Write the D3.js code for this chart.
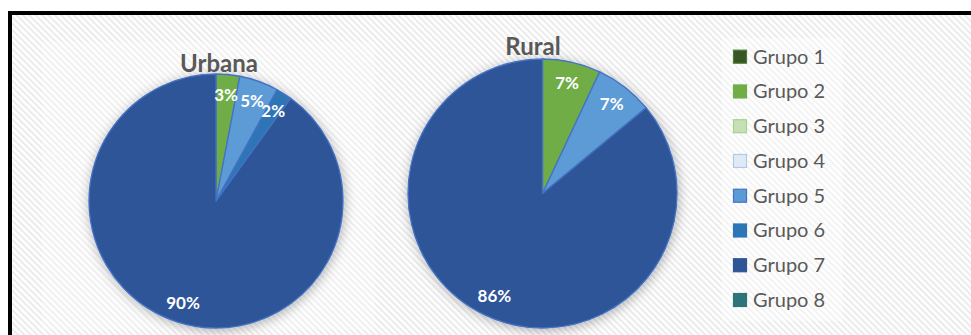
<!DOCTYPE html>
<html>
<head>
<meta charset="utf-8">
<script src="https://cdn.jsdelivr.net/npm/d3@7"></script>
<style>
  html, body { margin: 0; padding: 0; background: #fff; }
  svg { display: block; }
</style>
</head>
<body>
<svg id="chart" width="971" height="335"></svg>
<script>
// Group names and shares (%) for each zone
const groups = ["Grupo 1", "Grupo 2", "Grupo 3", "Grupo 4", "Grupo 5", "Grupo 6", "Grupo 7", "Grupo 8"];
const urbanaValues = [0, 3, 0, 0, 5, 2, 90, 0];
const ruralValues  = [0, 7, 0, 0, 7, 0, 86, 0];
const zoneTitles = ["Urbana", "Rural"];
const groupColors = ["#375623", "#70AD47", "#C5E0B4", "#DEEBF7", "#5B9BD5", "#2E75B6", "#2F5597", "#2E7579"];
const keyStrokes  = ["#4E7A36", "#70AD47", "#A9D18E", "#B4C7E7", "#4472C4", "#2E75B6", "#2F5597", "#2E7579"];

const svg = d3.select("#chart");
const defs = svg.append("defs");

// diagonal hatch background
const pat = defs.append("pattern")
  .attr("id", "hatch").attr("patternUnits", "userSpaceOnUse")
  .attr("width", 4.5).attr("height", 4.5)
  .attr("patternTransform", "rotate(-45)");
pat.append("rect").attr("width", 4.5).attr("height", 4.5).attr("fill", "#ffffff");
pat.append("rect").attr("width", 2).attr("height", 4.5).attr("fill", "#ebebeb");

// soft halo around pies
const f = defs.append("filter").attr("id", "halo")
  .attr("x", "-20%").attr("y", "-20%").attr("width", "140%").attr("height", "140%");
f.append("feDropShadow").attr("dx", 1).attr("dy", 2).attr("stdDeviation", 6)
  .attr("flood-color", "#000").attr("flood-opacity", 0.3);

// chart frame
svg.append("rect").attr("x", 10).attr("y", 13).attr("width", 1000).attr("height", 400)
  .attr("fill", "url(#hatch)").attr("stroke", "#000").attr("stroke-width", 4);

// faint chart-area panels
svg.append("rect").attr("x", 42).attr("y", 42).attr("width", 333).attr("height", 288)
  .attr("fill", "#fff").attr("opacity", 0.25);
svg.append("rect").attr("x", 722).attr("y", 38).attr("width", 121).attr("height", 283)
  .attr("fill", "#fff").attr("opacity", 0.4);

const color = d3.scaleOrdinal().domain(groups).range(groupColors);
const keyStroke = d3.scaleOrdinal().domain(groups).range(keyStrokes);

const pie = d3.pie().sort(null).value(d => d.value);

const charts = [
  { title: zoneTitles[0], values: urbanaValues, cx: 216, cy: 201, r: 127, tx: 219, ty: 72 },
  { title: zoneTitles[1], values: ruralValues,  cx: 542.5, cy: 193.5, r: 134.5, tx: 533, ty: 55 }
];

charts.forEach(c => {
  const data = groups.map((g, i) => ({ group: g, value: c.values[i] }));
  const arcs = pie(data);
  const arc = d3.arc().innerRadius(0).outerRadius(c.r);
  const labelArc = d3.arc().innerRadius(c.r * 0.84).outerRadius(c.r * 0.84);

  const g = svg.append("g").attr("transform", `translate(${c.cx},${c.cy})`);

  g.append("g").attr("filter", "url(#halo)")
    .selectAll("path")
    .data(arcs.filter(d => d.data.value > 0))
    .join("path")
    .attr("d", arc)
    .attr("fill", d => color(d.data.group))
    .attr("stroke", "#4472C4")
    .attr("stroke-width", 1.3)
    .attr("stroke-linejoin", "round");

  g.selectAll("text.lbl")
    .data(arcs.filter(d => d.data.value > 0))
    .join("text")
    .attr("class", "lbl")
    .attr("transform", d => `translate(${labelArc.centroid(d)})`)
    .attr("text-anchor", "middle")
    .attr("dy", "0.36em")
    .attr("fill", "#fff")
    .attr("font-family", "Lato, 'Open Sans', sans-serif")
    .attr("font-weight", "bold")
    .attr("font-size", 17)
    .text(d => d.data.value + "%");

  svg.append("text")
    .attr("x", c.tx).attr("y", c.ty)
    .attr("text-anchor", "middle")
    .attr("fill", "#595959")
    .attr("font-family", "Lato, 'Open Sans', sans-serif")
    .attr("font-weight", "bold")
    .attr("font-size", 24)
    .text(c.title);
});

// legend
const legendY = d3.scalePoint().domain(groups).range([56.7, 300]);
const leg = svg.append("g").selectAll("g").data(groups).join("g")
  .attr("transform", d => `translate(740,${legendY(d)})`);
leg.append("rect")
  .attr("x", -6.5).attr("y", -6.5).attr("width", 13).attr("height", 13)
  .attr("fill", d => color(d))
  .attr("stroke", d => keyStroke(d))
  .attr("stroke-width", 1.2);
leg.append("text")
  .attr("x", 13).attr("y", 0).attr("dy", "0.35em")
  .attr("fill", "#595959")
  .attr("font-family", "Lato, 'Open Sans', sans-serif")
  .attr("font-size", 20)
  .text(d => d);
</script>
</body>
</html>
